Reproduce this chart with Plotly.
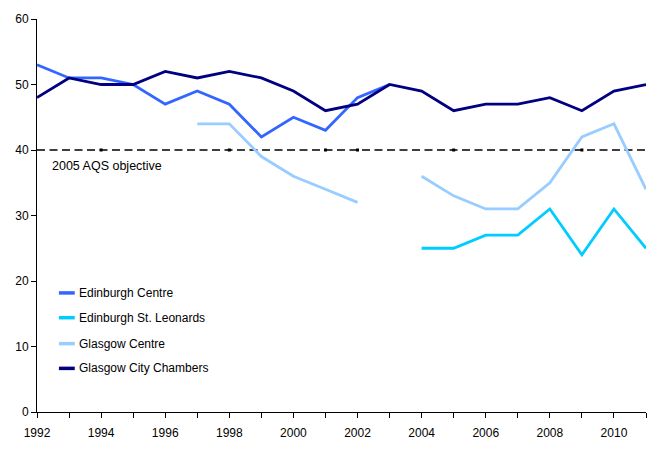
import plotly.graph_objects as go

# annual mean values
years = list(range(1992, 2012))

edinburgh_centre = [53, 51, 51, 50, 47, 49, 47, 42, 45, 43, 48, 50,
                    None, None, None, None, None, None, None, None]
edinburgh_st_leonards = [None] * 12 + [25, 25, 27, 27, 31, 24, 31, 25]
glasgow_centre = [None, None, None, None, None, 44, 44, 39, 36, 34, 32, None,
                  36, 33, 31, 31, 35, 42, 44, 34]
glasgow_city_chambers = [48, 51, 50, 50, 52, 51, 52, 51, 49, 46, 47, 50,
                         49, 46, 47, 47, 48, 46, 49, 50]

aqs_objective = 40
aqs_marker_years = [1994, 1998, 2001, 2002, 2005, 2009]

series = [
    ("Edinburgh Centre", edinburgh_centre, "#3366FF"),
    ("Edinburgh St. Leonards", edinburgh_st_leonards, "#00CCFF"),
    ("Glasgow Centre", glasgow_centre, "#99CCFF"),
    ("Glasgow City Chambers", glasgow_city_chambers, "#000080"),
]

fig = go.Figure()

# objective line
fig.add_trace(go.Scatter(x=[years[0], years[-1]], y=[aqs_objective] * 2, mode="lines",
                         line=dict(color="black", width=1.3, dash="8px,4.5px"),
                         showlegend=False, hoverinfo="skip"))
fig.add_trace(go.Scatter(x=aqs_marker_years, y=[aqs_objective] * len(aqs_marker_years),
                         mode="markers", marker=dict(symbol="square", size=3, color="black"),
                         showlegend=False, hoverinfo="skip"))

for name, vals, col in series:
    fig.add_trace(go.Scatter(x=years, y=vals, mode="lines", name=name,
                             line=dict(color=col, width=2.8), showlegend=False))

# hand-made legend, short line samples like the original
legend_rows = [0.303, 0.240, 0.174, 0.111]
for (name, vals, col), ly in zip(series, legend_rows):
    fig.add_shape(type="line", xref="paper", yref="paper", x0=0.036, x1=0.062, y0=ly, y1=ly,
                  line=dict(color=col, width=3.5))
    fig.add_annotation(xref="paper", yref="paper", x=0.065, y=ly, text=name, showarrow=False,
                       xanchor="left", yanchor="middle", font=dict(size=12, color="black"))

fig.add_annotation(x=1992.4, y=37.5, text="2005 AQS objective", showarrow=False,
                   xanchor="left", yanchor="middle", font=dict(size=12.5, color="black"))

fig.update_layout(
    width=670, height=459,
    margin=dict(l=37, r=24, t=16, b=47),
    plot_bgcolor="white", paper_bgcolor="white",
    font=dict(family="Liberation Sans, Arial, sans-serif", size=12, color="black"),
    showlegend=False,
    xaxis=dict(range=[1992, 2011], tickmode="array", tickvals=years,
               ticktext=[str(y) if y % 2 == 0 else "" for y in years],
               showgrid=False, zeroline=False, showline=True, linecolor="black", linewidth=1,
               ticks="outside", ticklen=5, tickcolor="black", ticklabelstandoff=5),
    yaxis=dict(range=[0, 60], dtick=10, showgrid=False, zeroline=False, showline=True,
               linecolor="black", linewidth=1, ticks="outside", ticklen=5, tickcolor="black"),
)

# drop the default page margin so the figure sits at the window corner
fig.write_html("out.html", config={"displayModeBar": False},
               post_script="document.body.style.margin='0';")
